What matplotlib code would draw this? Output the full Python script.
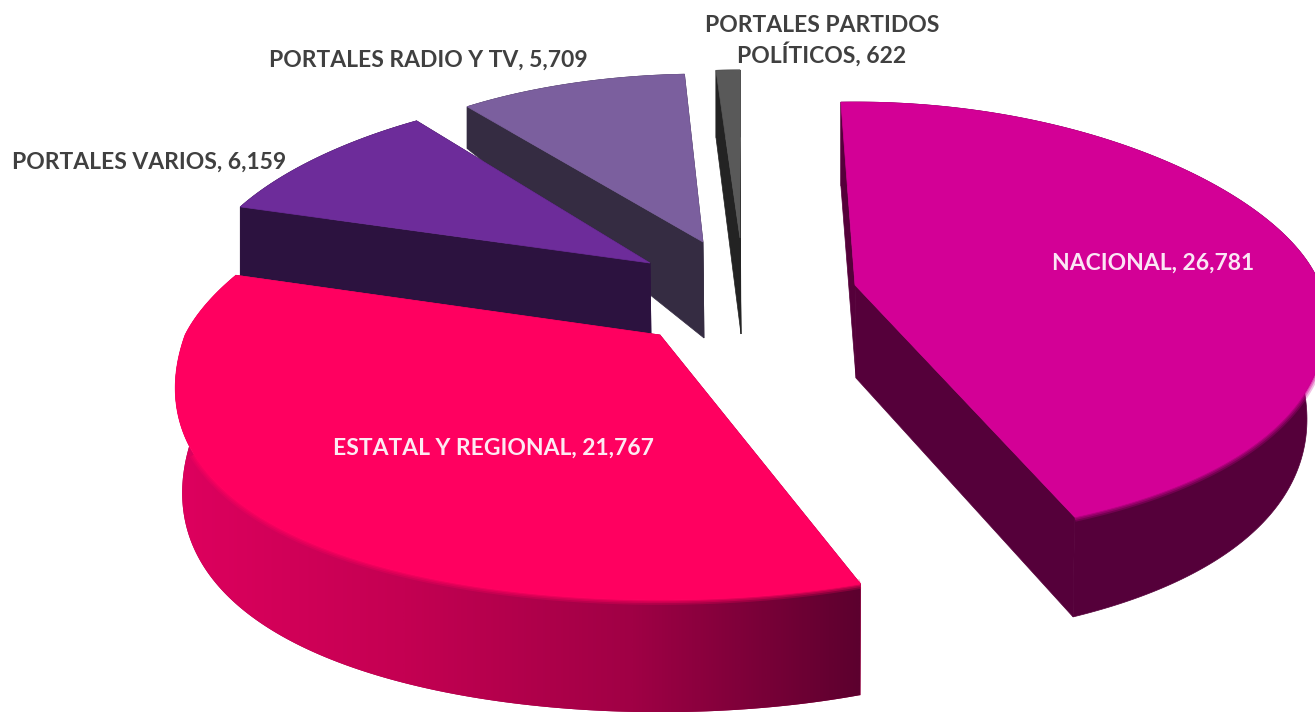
import numpy as np
import matplotlib
matplotlib.use("Agg")
import matplotlib.pyplot as plt
from matplotlib.patches import Polygon
from matplotlib.colors import LinearSegmentedColormap

categories = ["NACIONAL", "ESTATAL Y REGIONAL", "PORTALES VARIOS", "PORTALES RADIO Y TV", "PORTALES PARTIDOS\nPOLÍTICOS"]
values = [26781, 21767, 6159, 5709, 622]
top_colors = ["#D30096", "#FF0060", "#6D2C9A", "#7B5F9E", "#595959"]
side_colors = ["#55003A", "#A00045", "#2C123F", "#352C42", "#232323"]

# geometry of the exploded perspective pie (pixels)
apex_x = [855, 660, 650, 703, 740]
apex_y = [285, 335, 263, 242, 238]
radius_x = [465, 475, 450, 398, 375]
radius_up = [183, 190, 173, 168, 168]
radius_down = [254, 265, 254, 254, 254]
persp = [0.15, 0.20, 0.12, 0.0, 0.0]
depth = [93, 102, 71, 96, 96]
depth_fall = [0.1, 0.1, 0.1, 0.7, 0.3]
angle_nudge = [-2.0, 4.0, 0.6, -1.6, -1.0]
shrink = [0.04, 0.015, 0.0, 0.0, 0.0]
bevel_limit = [-0.12, -0.45]

label_x = [1153, 493, 149, 428, 822]
label_y = [263, 448, 162, 60, 41]
label_colors = ["#FBE6F5", "#FDEAF2", "#404040", "#404040", "#404040"]
draw_order = [4, 3, 2, 0, 1]


def top_xy(i, t):
    u, v = np.sin(t), np.cos(t)
    x = apex_x[i] + radius_x[i] * u / (1 + persp[i] * v)
    y = apex_y[i] - np.where(v > 0, radius_up[i], radius_down[i]) * v
    return x, y


def bottom_xy(i, t):
    u, v = np.sin(t), np.cos(t)
    x, y = top_xy(i, t)
    s = 1 - shrink[i] * u ** 2
    return apex_x[i] + s * (x - apex_x[i]), apex_y[i] + s * (y - apex_y[i]) + depth[i] * (1 - depth_fall[i] * v)


fig = plt.figure(figsize=(13.15, 7.12), dpi=100)
ax = fig.add_axes([0, 0, 1, 1])
ax.set_xlim(0, 1315)
ax.set_ylim(712, 0)
ax.axis("off")

sweeps = np.array(values) / sum(values) * 360
starts, ends = [], []
cur = 0.0
for s, n in zip(sweeps, angle_nudge):
    cur += n
    starts.append(cur)
    cur += s
    ends.append(cur)

estatal_cmap = LinearSegmentedColormap.from_list("e", ["#DE005E", "#C40052", "#A00045", "#5C002E"])

for i in draw_order:
    t = np.radians(np.linspace(starts[i], ends[i], 240))
    xt, yt = top_xy(i, t)
    xb, yb = bottom_xy(i, t)
    cx, cy = apex_x[i], apex_y[i]
    cyb = cy + depth[i]
    base_z = 5 if i == 1 else 1
    # radial faces
    for k in (0, -1):
        ax.add_patch(Polygon([(cx, cy), (xt[k], yt[k]), (xb[k], yb[k]), (cx + 1, cyb)],
                             closed=True, fc=side_colors[i], ec=side_colors[i], lw=0.5, zorder=base_z))
    # outer wall
    wall = Polygon(np.column_stack([np.r_[xt, xb[::-1]], np.r_[yt, yb[::-1]]]),
                   closed=True, fc=side_colors[i], ec=side_colors[i] if i != 1 else "none", lw=0.5, zorder=base_z)
    ax.add_patch(wall)
    if i == 1:
        grad = np.linspace(0, 1, 512).reshape(1, -1)
        im = ax.imshow(grad, cmap=estatal_cmap, extent=(xt.min(), xt.max(), yb.max(), yt.min()),
                       aspect="auto", zorder=base_z + 0.5, interpolation="bilinear")
        im.set_clip_path(wall)
        ax.set_xlim(0, 1315)
        ax.set_ylim(712, 0)
    # soft bevel along the lower rim only
    if i in (0, 1):
        low = np.cos(t) < bevel_limit[i]
        for w, a in ((7, 0.25), (4.5, 0.35), (2.2, 0.5)):
            ax.plot(xt[low], yt[low], color=top_colors[i], lw=w, alpha=a,
                    solid_capstyle="butt", zorder=base_z + 0.7)
    # top face
    ax.add_patch(Polygon(np.column_stack([np.r_[cx, xt], np.r_[cy, yt]]),
                         closed=True, fc=top_colors[i], ec=top_colors[i], lw=0.5, zorder=base_z + 1))

for i in range(len(values)):
    ax.text(label_x[i], label_y[i], f"{categories[i]}, {values[i]:,}", ha="center", va="center",
            fontsize=16.5, fontweight="bold", family="Lato", color=label_colors[i],
            linespacing=1.3, zorder=10)

fig.savefig("out.png", dpi=100)
